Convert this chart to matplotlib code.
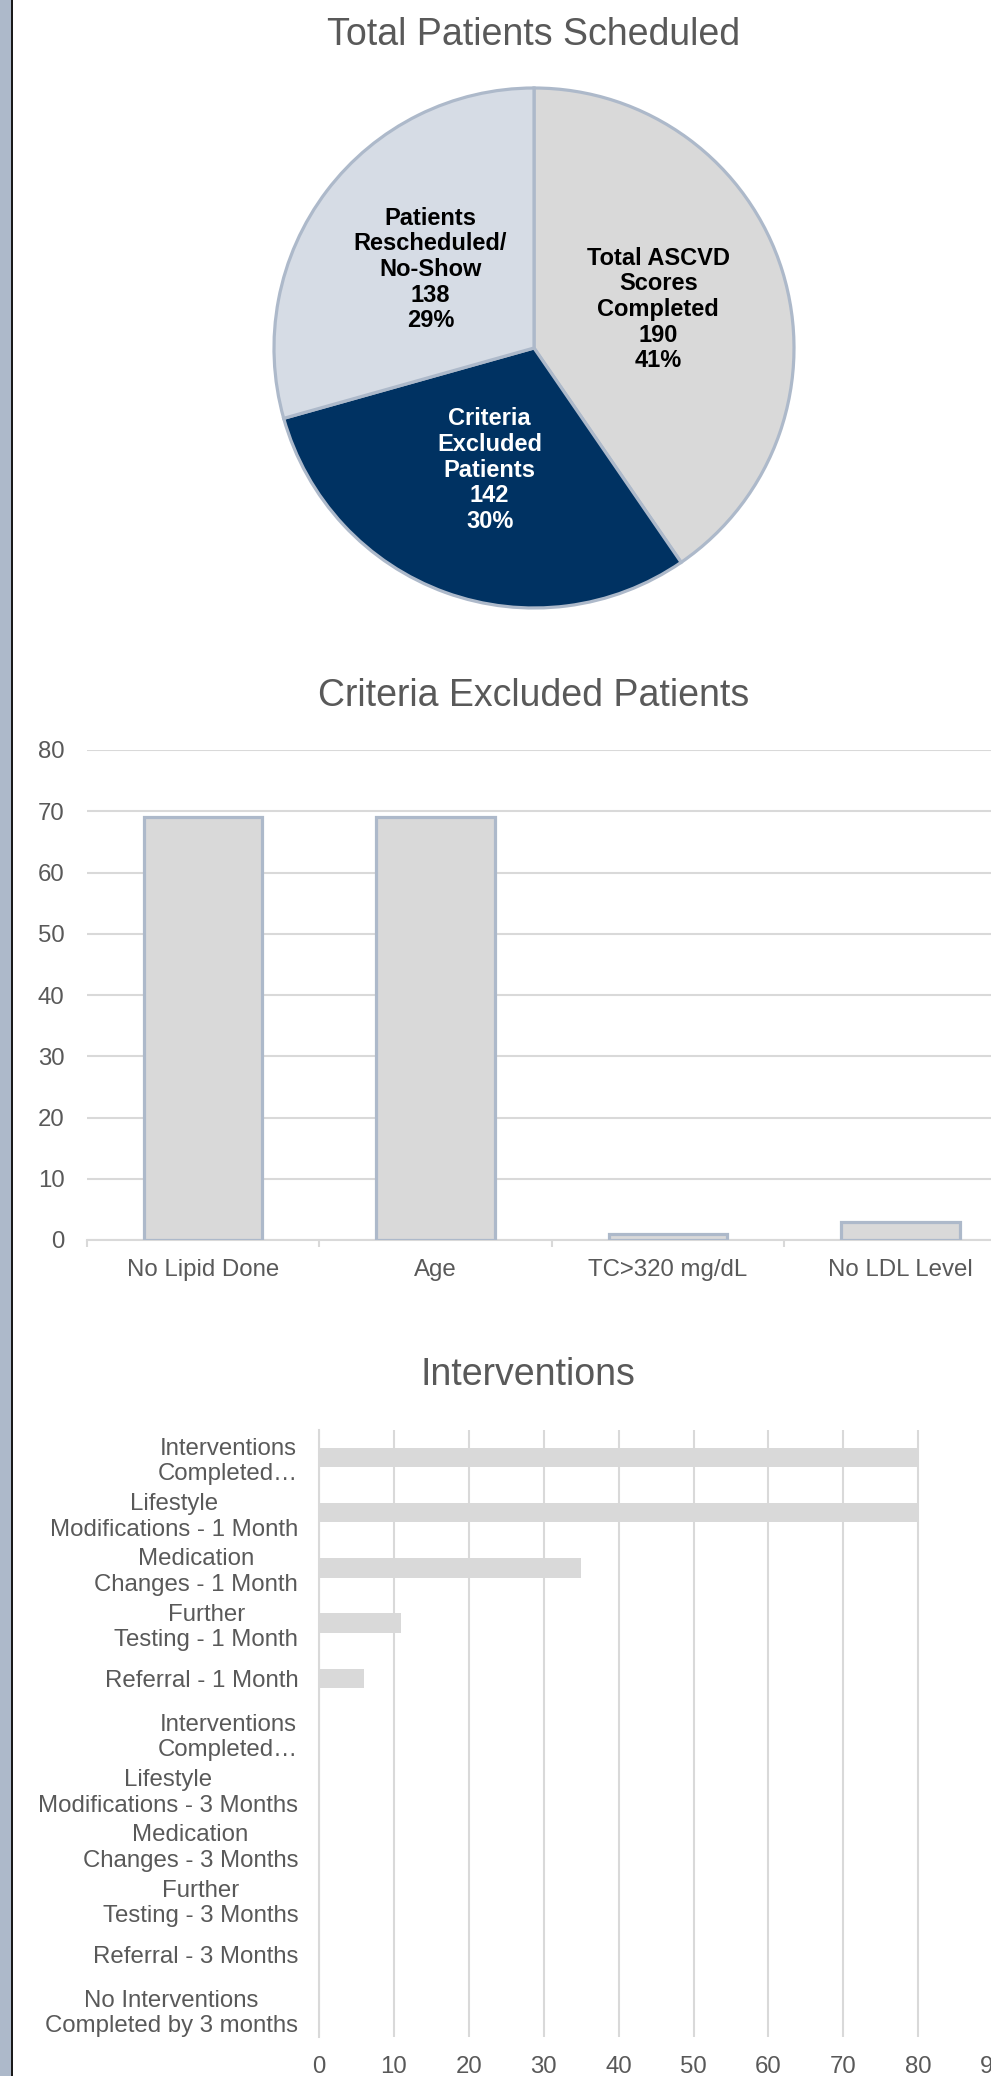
import matplotlib.pyplot as plt
from matplotlib.patches import Rectangle
import numpy as np

plt.rcParams['font.family'] = ['Liberation Sans', 'DejaVu Sans']

# --- data ---
pie_names = ["Total ASCVD\nScores\nCompleted", "Criteria\nExcluded\nPatients", "Patients\nRescheduled/\nNo-Show"]
pie_values = [190, 142, 138]
pie_pcts = ["41%", "30%", "29%"]

excl_cats = ["No Lipid Done", "Age", "TC>320 mg/dL", "No LDL Level"]
excl_vals = [69, 69, 1, 3]

interv_cats = ["Interventions\nCompleted…", "Lifestyle\nModifications - 1 Month",
               "Medication\nChanges - 1 Month", "Further\nTesting - 1 Month",
               "Referral - 1 Month", "Interventions\nCompleted…",
               "Lifestyle\nModifications - 3 Months", "Medication\nChanges - 3 Months",
               "Further\nTesting - 3 Months", "Referral - 3 Months",
               "No Interventions\nCompleted by 3 months"]
interv_vals = [80, 80, 35, 11, 6, 0, 0, 0, 0, 0, 0]

W, H = 991, 2076
gray_txt = '#595959'
grid_c = '#D9D9D9'
edge_c = '#ADB9CA'
tick_fs = 17.3
title_fs = 27

fig = plt.figure(figsize=(W / 100, H / 100), dpi=100)

def box(left, top, right, bottom):
    # pixel box -> figure fraction
    return [left / W, 1 - bottom / H, (right - left) / W, (bottom - top) / H]

# left border strip
fig.patches.append(Rectangle((0, 0), 11 / W, 1, transform=fig.transFigure,
                             facecolor=edge_c, edgecolor='none'))
fig.patches.append(Rectangle((11 / W, 0), 2 / W, 1, transform=fig.transFigure,
                             facecolor='#1a1a1a', edgecolor='none'))

# ---- pie ----
r = 260
m = 1.02
ax1 = fig.add_axes(box(534 - r * m, 348 - r * m, 534 + r * m, 348 + r * m))
labels = [f"{n}\n{v}\n{p}" for n, v, p in zip(pie_names, pie_values, pie_pcts)]
wedges, texts = ax1.pie(pie_values, labels=labels, startangle=90, counterclock=False,
                        colors=['#D9D9D9', '#003262', '#D6DCE5'], labeldistance=0.5,
                        wedgeprops=dict(edgecolor=edge_c, linewidth=2.3))
for t, c in zip(texts, ['black', 'white', 'black']):
    t.set_ha('center')
    t.set_va('center')
    t.set_color(c)
    t.set_fontsize(17)
    t.set_fontweight('bold')
    t.set_linespacing(1.15)
ax1.set_xlim(-m, m)
ax1.set_ylim(-m, m)
ax1.set_aspect('equal')
fig.text(534 / W, 1 - 35 / H, "Total Patients Scheduled", ha='center', va='center',
         fontsize=title_fs, color=gray_txt)

# ---- criteria excluded bar chart ----
ax2 = fig.add_axes(box(86.6, 750, 1017, 1240))
x = np.arange(len(excl_cats))
ax2.bar(x, excl_vals, width=0.51, color='#D9D9D9', edgecolor=edge_c, linewidth=2.3, zorder=3)
ax2.set_xlim(-0.5, len(excl_cats) - 0.5)
ax2.set_ylim(0, 80)
ax2.set_yticks(range(0, 81, 10))
ax2.yaxis.grid(True, color=grid_c, linewidth=1.5)
ax2.set_axisbelow(True)
for s in ['top', 'right', 'left']:
    ax2.spines[s].set_visible(False)
ax2.spines['bottom'].set_color(grid_c)
ax2.spines['bottom'].set_linewidth(1.5)
ax2.set_xticks(x)
ax2.set_xticklabels(excl_cats)
ax2.set_xticks(np.arange(len(excl_cats)) - 0.5, minor=True)
ax2.tick_params(axis='x', which='major', length=0, pad=13.5, labelsize=tick_fs, labelcolor=gray_txt)
ax2.tick_params(axis='x', which='minor', length=5, width=1.5, color=grid_c)
ax2.tick_params(axis='y', length=0, pad=16, labelsize=tick_fs, labelcolor=gray_txt)
fig.text(534 / W, 1 - 696 / H, "Criteria Excluded Patients", ha='center', va='center',
         fontsize=title_fs, color=gray_txt)

# ---- interventions horizontal bars ----
ax3 = fig.add_axes(box(319, 1430, 319 + 9 * 74.9, 2037))
y = np.arange(len(interv_cats))
ax3.barh(y, interv_vals, height=0.35, color='#D9D9D9', zorder=3)
ax3.set_ylim(len(interv_cats) - 0.5, -0.5)
ax3.set_xlim(0, 90)
ax3.set_xticks(range(0, 91, 10))
ax3.xaxis.grid(True, color=grid_c, linewidth=1.5)
ax3.set_axisbelow(True)
for s in ['top', 'right', 'bottom']:
    ax3.spines[s].set_visible(False)
ax3.spines['left'].set_color(grid_c)
ax3.spines['left'].set_linewidth(1.5)
ax3.set_yticks(y)
ax3.set_yticklabels(interv_cats, multialignment='center')
ax3.tick_params(axis='y', length=0, pad=15, labelsize=tick_fs, labelcolor=gray_txt)
ax3.tick_params(axis='x', length=0, pad=13.5, labelsize=tick_fs, labelcolor=gray_txt)
for lab in ax3.get_xticklabels():
    lab.set_clip_on(False)
fig.text(528 / W, 1 - 1375 / H, "Interventions", ha='center', va='center',
         fontsize=title_fs, color=gray_txt)

plt.savefig('out.png', dpi=100)
plt.close()
